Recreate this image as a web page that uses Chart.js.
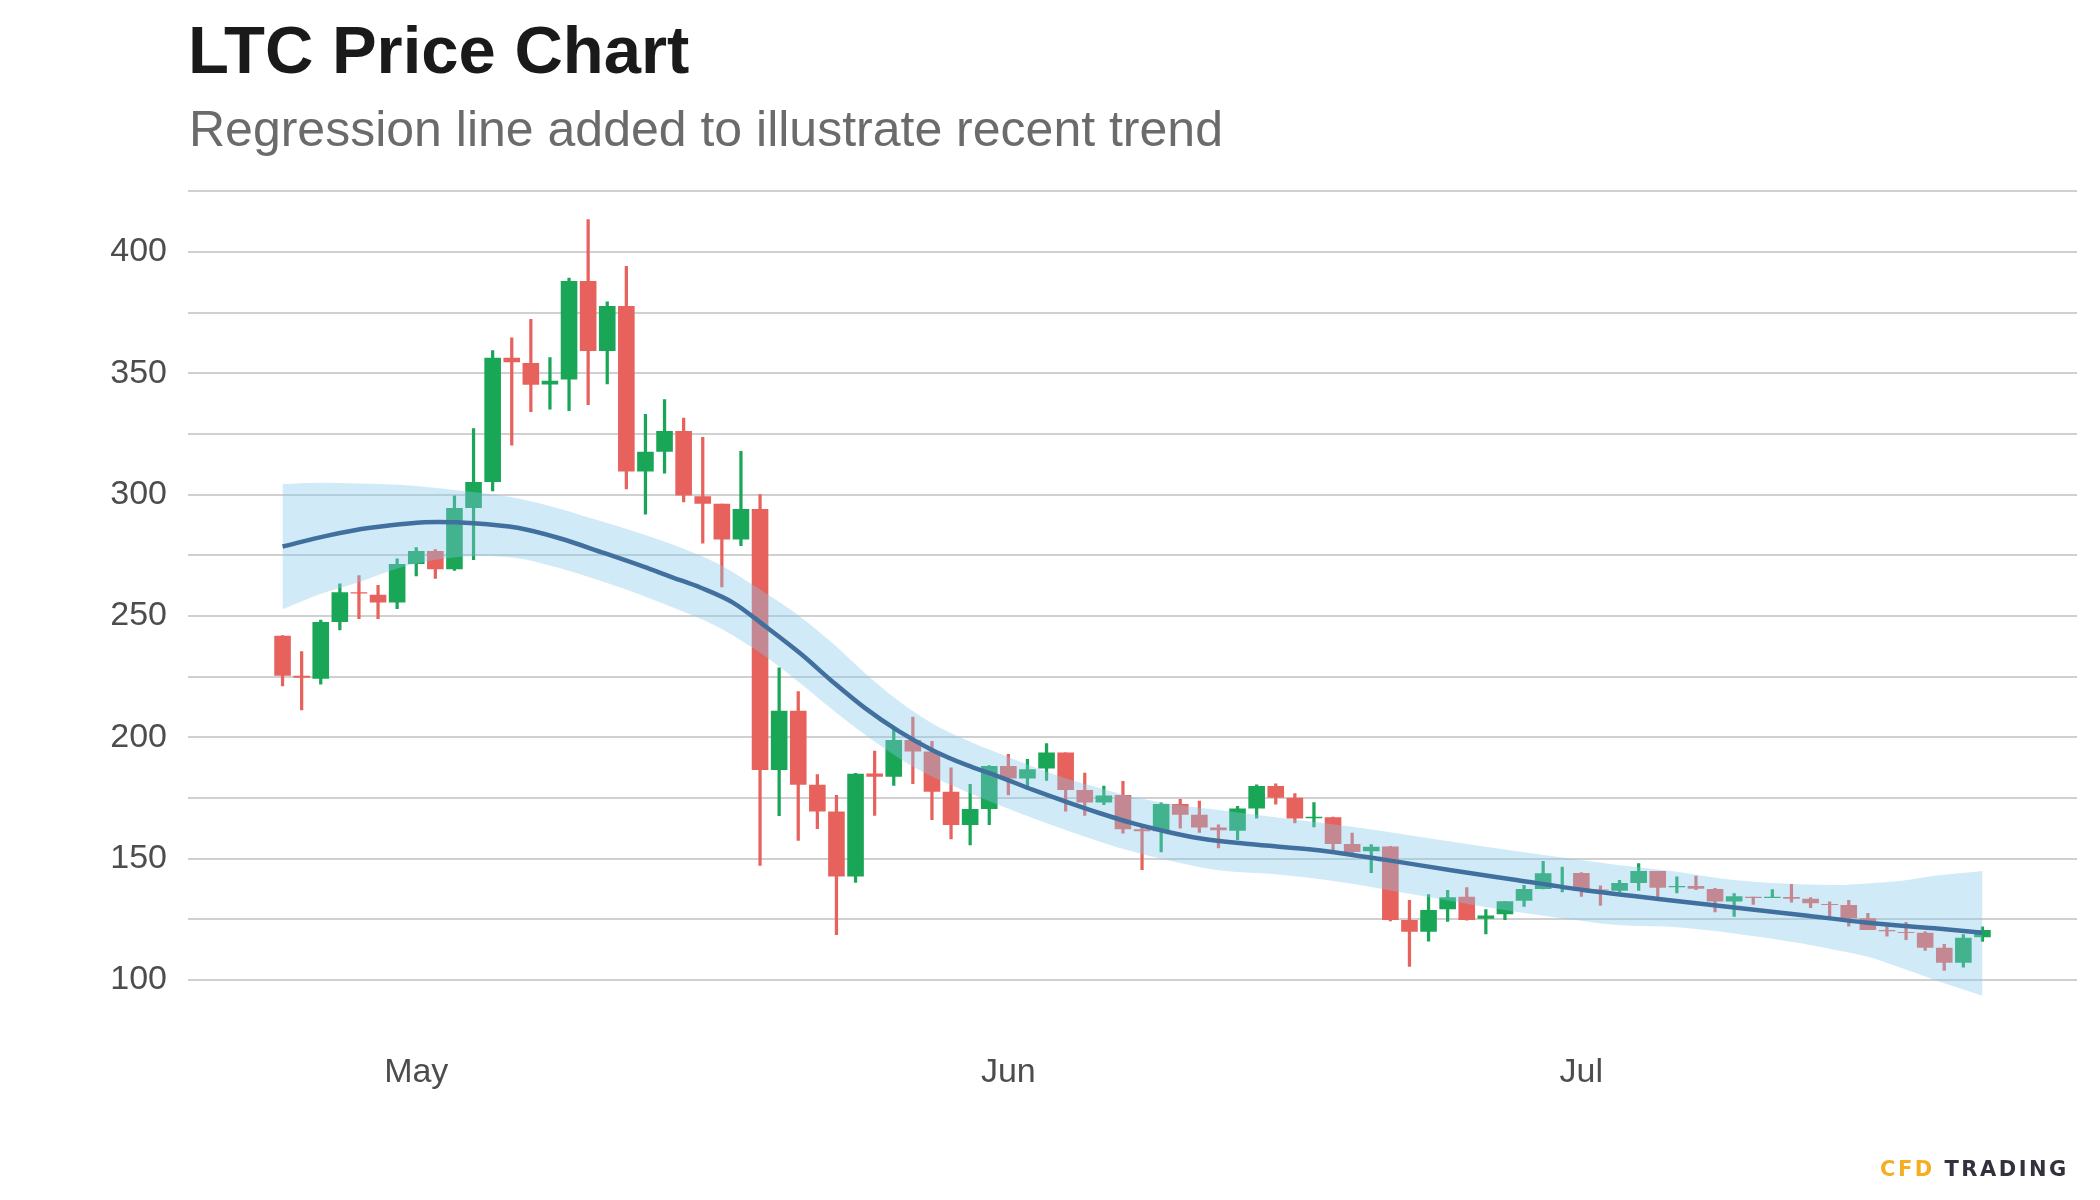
<!DOCTYPE html>
<html>
<head>
<meta charset="utf-8">
<title>LTC Price Chart</title>
<script src="https://cdn.jsdelivr.net/npm/chart.js@4.4.1/dist/chart.umd.min.js"></script>
<style>
  body { margin: 0; background: #fff; }
  #wrap { position: relative; width: 2100px; height: 1200px; font-family: "Liberation Sans", Arial, sans-serif; }
  #chart { position: absolute; left: 0; top: 0; }
  .title { position: absolute; left: 188px; top: 16px; font-size: 67px; line-height: 67px; font-weight: bold; color: #1a1a1a; white-space: nowrap; }
  .subtitle { position: absolute; left: 189px; top: 104px; font-size: 50px; line-height: 50px; color: #6b6b6b; white-space: nowrap; }
  .brand { position: absolute; left: 1880px; top: 1159px; font-family: "DejaVu Sans", sans-serif; font-weight: bold; font-size: 21px; line-height: 21px; letter-spacing: 2.5px; white-space: nowrap; }
  .brand .cfd { color: #f5ae22; }
  .brand .trd { color: #32323e; }
</style>
</head>
<body>
<div id="wrap">
  <canvas id="chart" width="2100" height="1200"></canvas>
  <div class="title">LTC Price Chart</div>
  <div class="subtitle">Regression line added to illustrate recent trend</div>
  <div class="brand"><span class="cfd">CFD</span> <span class="trd">TRADING</span></div>
</div>
<script>
// daily candles, 2021-04-24 .. 2021-07-22 (x = day index)
const open = [241.8, 225.3, 224.1, 247.5, 259.8, 258.7, 255.5, 271.4, 276.7, 269.2,
  294.5, 305.2, 356.4, 354.2, 345.3, 347.4, 388.0, 359.2, 377.7, 309.5,
  317.6, 326.2, 299.3, 296.2, 281.5, 294.1, 186.5, 210.9, 180.4, 169.4,
  142.6, 185.1, 183.7, 198.9, 194.1, 177.6, 163.9, 170.5, 188.2, 183.0,
  187.1, 193.7, 178.3, 173.1, 176.2, 162.1, 161.3, 172.5, 168.1, 162.8,
  161.5, 170.7, 179.9, 175.1, 166.6, 167.0, 156.0, 153.0, 155.0, 124.7,
  119.9, 129.1, 134.3, 125.2, 127.1, 132.6, 137.5, 139.0, 144.1, 137.3,
  136.8, 140.0, 144.9, 138.2, 138.7, 137.5, 132.3, 134.3, 133.8, 134.2,
  133.5, 131.3, 130.9, 125.4, 120.6, 119.8, 119.5, 113.3, 107.1, 117.6]
const high = [242.0, 235.4, 248.4, 263.4, 266.8, 262.7, 273.7, 278.3, 277.5, 299.6,
  327.3, 359.5, 364.7, 372.3, 356.6, 389.3, 413.4, 379.5, 394.2, 333.2,
  339.3, 331.6, 323.7, 296.2, 317.9, 300.1, 228.8, 219.0, 184.8, 176.2,
  185.3, 194.5, 204.0, 208.5, 198.5, 187.6, 180.8, 188.5, 193.1, 191.1,
  197.5, 193.7, 185.4, 180.0, 182.0, 164.3, 173.1, 174.6, 173.8, 164.1,
  171.7, 180.5, 181.0, 176.9, 173.2, 167.3, 160.7, 155.9, 155.2, 133.0,
  135.3, 137.1, 138.2, 129.1, 132.4, 139.1, 149.0, 146.7, 144.4, 138.9,
  141.2, 148.1, 144.9, 142.6, 142.9, 137.9, 135.7, 134.3, 137.4, 139.6,
  134.1, 132.3, 133.0, 127.6, 123.4, 123.9, 120.1, 114.8, 118.8, 122.0]
const low = [221.0, 211.1, 221.7, 244.1, 248.7, 248.7, 252.9, 266.3, 265.3, 268.6,
  273.0, 301.4, 320.2, 334.0, 335.0, 334.4, 336.9, 345.5, 302.2, 291.8,
  308.7, 296.8, 279.8, 261.8, 278.8, 147.1, 167.6, 157.4, 162.2, 118.5,
  140.1, 167.7, 180.0, 180.8, 165.9, 158.0, 155.5, 163.9, 176.1, 178.4,
  182.1, 169.4, 167.7, 172.1, 160.4, 145.3, 152.6, 162.4, 160.7, 154.3,
  157.7, 166.5, 172.3, 164.6, 162.9, 153.6, 152.2, 144.1, 124.2, 105.5,
  115.9, 124.0, 124.5, 118.8, 124.7, 130.2, 137.4, 136.1, 134.3, 130.6,
  136.1, 136.8, 134.1, 135.7, 137.1, 127.9, 126.1, 131.0, 133.8, 131.9,
  129.7, 125.8, 122.0, 120.6, 117.9, 116.5, 112.0, 103.8, 105.1, 115.8]
const close = [225.3, 224.5, 247.5, 259.8, 259.2, 255.5, 271.4, 276.7, 269.2, 294.5,
  305.2, 356.4, 354.5, 345.2, 346.9, 388.0, 359.2, 377.7, 309.5, 317.6,
  326.2, 299.6, 296.2, 281.5, 294.1, 186.5, 210.9, 180.4, 169.4, 142.6,
  185.0, 183.7, 198.9, 194.1, 177.6, 163.9, 170.5, 188.2, 183.0, 186.8,
  193.7, 178.3, 173.1, 176.0, 162.1, 161.3, 172.5, 168.1, 162.8, 161.7,
  170.7, 179.9, 175.1, 166.5, 167.3, 156.0, 152.7, 154.9, 124.7, 119.9,
  128.8, 134.1, 124.7, 126.6, 132.4, 137.5, 144.0, 139.0, 137.1, 136.9,
  140.0, 144.9, 138.0, 138.7, 137.6, 132.3, 134.5, 133.8, 134.3, 133.5,
  131.6, 130.9, 125.4, 120.6, 120.1, 119.4, 113.3, 107.1, 117.4, 120.6]

// loess trend line and its confidence band
const trendDays = [0, 2.3, 4.6, 8.1, 10, 12.3, 14.5, 16.8, 18.9, 20.3, 21.9, 23.6, 25.3, 27.1, 28.8, 30.5,
  32.3, 34, 35.8, 37.5, 39.3, 41, 42.8, 44.5, 46.3, 48, 50.6, 54.1, 57.6, 61.1, 64.6, 68.1,
  72.5, 76, 79.5, 83, 86.5, 89]
const trendValues = [278.6, 283, 286.3, 288.7, 288.2, 286.3, 282, 276, 270.3, 266.2, 261.6, 255.4, 245.6,
  234.6, 222.9, 212, 202.3, 194.8, 188.6, 183.8, 178.3, 173.5, 168.7, 164.6, 161.1, 158.4, 156,
  153.6, 149.7, 145.3, 141.2, 137.1, 133, 129.9, 126.8, 123.6, 121.3, 119.5]
const bandDays = [0, 1.9, 4, 6.1, 8.2, 10.3, 12.4, 14.5, 16.6, 18.7, 20.8, 22.9, 25.3, 27.1, 28.8,
  30.5, 32.3, 34, 35.8, 37.5, 39.3, 41, 42.8, 44.5, 46.3, 48.9, 52.4, 55.9, 59.4, 62.9, 66.4,
  69.9, 72.5, 76, 79.5, 81.3, 83, 84.8, 86.5, 89]
const bandUpper = [304.3, 304.9, 304.6, 304, 302.6, 300.7, 298.3, 294.2, 289.2, 284.1, 278.3, 271.1,
  259.3, 249.7, 238.7, 226.4, 214.7, 205.8, 198.9, 193.4, 187.9, 183.1, 179, 175.5, 172.8, 170.1,
  166.6, 163.2, 159.1, 155, 151.1, 147.4, 145.1, 141.2, 139.4, 139.1, 139.8, 140.9, 142.9, 144.9]
const bandLower = [252.7, 258.8, 263.9, 269.7, 273.3, 274.7, 273.7, 269.7, 264.6, 258.8, 252.3, 245,
  233.2, 222.3, 211.3, 201, 191.3, 183.8, 177.6, 172.1, 166.6, 161.8, 157, 152.9, 149.4, 145.3,
  143.3, 139.8, 135, 130.2, 126.1, 122.7, 122, 119.2, 115.1, 112.4, 109.6, 104.8, 100, 93.5]

const monthDays = [7, 38, 68]
const monthLabels = ['May', 'Jun', 'Jul']
const yTicks = [100, 125, 150, 175, 200, 225, 250, 275, 300, 325, 350, 375, 400, 425]

const upColor = '#1aa657'
const downColor = '#e8625d'
const candleColors = close.map((c, i) => c >= open[i] ? upColor : downColor)
const tickFont = { family: '"Liberation Sans", Arial, sans-serif', size: 34 }

new Chart(document.getElementById('chart').getContext('2d'), {
  type: 'bar',
  data: {
    datasets: [{
      type: 'line',
      data: trendDays.map((d, i) => ({ x: d, y: trendValues[i] })),
      borderColor: '#41709f',
      borderWidth: 4.5,
      pointRadius: 0,
      fill: false,
      cubicInterpolationMode: 'monotone',
      order: 0
    }, {
      type: 'line',
      data: bandDays.map((d, i) => ({ x: d, y: bandUpper[i] })),
      borderColor: 'rgba(0,0,0,0)',
      borderWidth: 0,
      pointRadius: 0,
      fill: '+1',
      backgroundColor: 'rgba(135,200,235,0.38)',
      cubicInterpolationMode: 'monotone',
      order: 1
    }, {
      type: 'line',
      data: bandDays.map((d, i) => ({ x: d, y: bandLower[i] })),
      borderColor: 'rgba(0,0,0,0)',
      borderWidth: 0,
      pointRadius: 0,
      fill: false,
      cubicInterpolationMode: 'monotone',
      order: 1
    }, {
      // candle bodies
      data: open.map((o, i) => ({ x: i, y: [o, close[i]] })),
      backgroundColor: candleColors,
      barPercentage: 0.87,
      categoryPercentage: 1,
      grouped: false,
      order: 2
    }, {
      // wicks
      data: low.map((l, i) => ({ x: i, y: [l, high[i]] })),
      backgroundColor: candleColors,
      barPercentage: 0.17,
      categoryPercentage: 1,
      grouped: false,
      order: 2
    }]
  },
  options: {
    responsive: false,
    animation: false,
    devicePixelRatio: 1,
    layout: { padding: { top: 180.5, right: 23, left: 0, bottom: 0 } },
    plugins: {
      legend: { display: false },
      tooltip: { enabled: false }
    },
    scales: {
      x: {
        type: 'linear',
        min: -4.95,
        max: 93.95,
        offset: false,
        afterBuildTicks: axis => { axis.ticks = monthDays.map(v => ({ value: v })) },
        afterFit: axis => { axis.height = 165.4 },
        grid: { display: false, drawTicks: false },
        border: { display: false },
        ticks: {
          padding: 18,
          color: '#4d4d4d',
          font: tickFont,
          maxRotation: 0,
          autoSkip: false,
          callback: v => monthLabels[monthDays.indexOf(v)]
        }
      },
      y: {
        min: 77.5,
        max: 429.4,
        afterBuildTicks: axis => { axis.ticks = yTicks.map(v => ({ value: v })) },
        afterFit: axis => { axis.width = 188 },
        grid: { color: '#d0d0d0', lineWidth: 2, drawTicks: false },
        border: { display: false },
        ticks: {
          padding: 21,
          color: '#4d4d4d',
          font: tickFont,
          autoSkip: false,
          callback: v => v % 50 === 0 ? v : ''
        }
      }
    }
  }
})
</script>
</body>
</html>
